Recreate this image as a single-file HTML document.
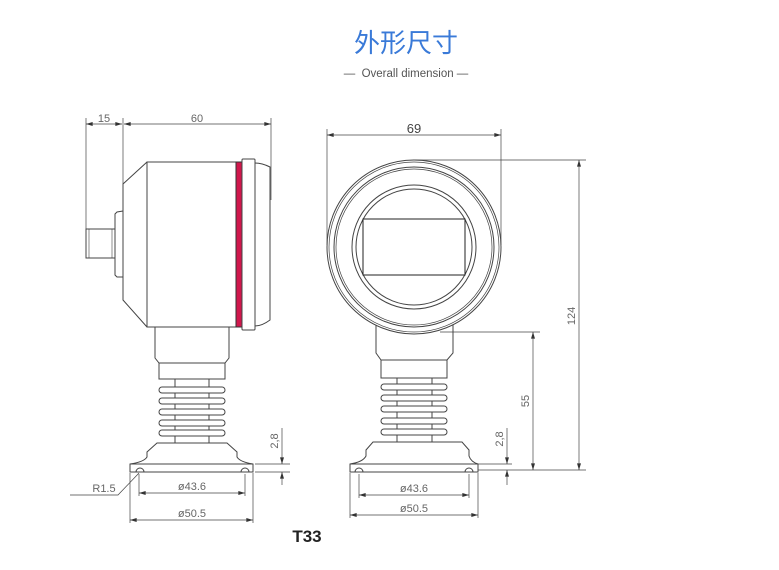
<!DOCTYPE html>
<html><head><meta charset="utf-8"><style>
html,body{margin:0;padding:0;background:#fff}
svg{display:block}
</style></head><body>
<svg width="779" height="570" viewBox="0 0 779 570" xmlns="http://www.w3.org/2000/svg">
<defs>
<marker id="a" viewBox="0 0 10 6" refX="10" refY="3" markerWidth="9" markerHeight="4" orient="auto-start-reverse" markerUnits="userSpaceOnUse"><path d="M0,0 L10,3 L0,6 z" fill="#333"/></marker>
</defs>
<text x="406" y="52" text-anchor="middle" font-family="'Liberation Sans','Noto Sans CJK SC',sans-serif" font-size="26" fill="#3a7ad8">外形尺寸</text>
<text x="406" y="77" text-anchor="middle" font-family="'Liberation Sans',sans-serif" font-size="11.5" fill="#555">—&#160;&#160;Overall dimension —</text>

<g fill="none" stroke="#444" stroke-width="1">
<!-- LEFT VIEW -->
<line x1="86" y1="118" x2="86" y2="258" stroke-width="0.7"/>
<line x1="123" y1="118" x2="123" y2="184" stroke-width="0.7"/>
<line x1="271" y1="118" x2="271" y2="200" stroke-width="0.7"/>
<line x1="86" y1="124" x2="122" y2="124" stroke-width="0.7" marker-start="url(#a)" marker-end="url(#a)"/>
<line x1="124" y1="124" x2="271" y2="124" stroke-width="0.7" marker-start="url(#a)" marker-end="url(#a)"/>
<rect x="86" y="229" width="29" height="29"/>
<line x1="89" y1="229" x2="89" y2="258" stroke-width="0.6"/>
<line x1="112" y1="229" x2="112" y2="258" stroke-width="0.6"/>
<path d="M123,211 L117,212 L115,214 L115,275 L117,277 L123,277"/>
<path d="M147,162 L123,184 L123,300 L147,327"/>
<rect x="147" y="162" width="89" height="165"/>
<rect x="236" y="162" width="6" height="165" fill="#d0174c" stroke="#333"/>
<rect x="242" y="159" width="13" height="171" rx="1"/>
<path d="M255,163 Q262,163 270,167 L270,320 Q262,326 255,326"/>
<path d="M155,327 L155,358 L159,363 L225,363 L229,358 L229,327"/>
<rect x="159" y="363" width="66" height="16"/>
<line x1="175" y1="379" x2="175" y2="443"/>
<line x1="209" y1="379" x2="209" y2="443"/>
<g fill="#fff">
<rect x="159" y="387" width="66" height="6" rx="3"/>
<rect x="159" y="398" width="66" height="6" rx="3"/>
<rect x="159" y="409" width="66" height="6" rx="3"/>
<rect x="159" y="420" width="66" height="6" rx="3"/>
<rect x="159" y="430" width="66" height="6" rx="3"/>
</g>
<path d="M157,443 L227,443 L237,452 L237,457 Q240,462 253,464 L253,472 L130,472 L130,464 Q144,462 147,457 L147,452 Z"/>
<line x1="130" y1="464" x2="253" y2="464"/>
<path d="M136,472 A4,4 0 0 1 144,472"/>
<path d="M241,472 A4,4 0 0 1 249,472"/>
<line x1="255" y1="464" x2="290" y2="464" stroke-width="0.7"/>
<line x1="255" y1="472" x2="290" y2="472" stroke-width="0.7"/>
<line x1="282" y1="428" x2="282" y2="464" stroke-width="0.7" marker-end="url(#a)"/>
<line x1="282" y1="485" x2="282" y2="472" stroke-width="0.7" marker-end="url(#a)"/>
<line x1="139" y1="474" x2="139" y2="496" stroke-width="0.7"/>
<line x1="245" y1="474" x2="245" y2="496" stroke-width="0.7"/>
<line x1="130" y1="473" x2="130" y2="523" stroke-width="0.7"/>
<line x1="253" y1="473" x2="253" y2="523" stroke-width="0.7"/>
<line x1="139" y1="493" x2="245" y2="493" stroke-width="0.7" marker-start="url(#a)" marker-end="url(#a)"/>
<line x1="130" y1="520" x2="253" y2="520" stroke-width="0.7" marker-start="url(#a)" marker-end="url(#a)"/>
<path d="M70,495 L118,495 L139,473" stroke-width="0.7"/>

<!-- RIGHT VIEW -->
<line x1="327" y1="129" x2="327" y2="245" stroke-width="0.7"/>
<line x1="501" y1="129" x2="501" y2="245" stroke-width="0.7"/>
<line x1="327" y1="135" x2="501" y2="135" stroke-width="0.7" marker-start="url(#a)" marker-end="url(#a)"/>
<circle cx="414" cy="247" r="87"/>
<circle cx="414" cy="247" r="85" stroke-width="0.7"/>
<circle cx="414" cy="247" r="80"/>
<circle cx="414" cy="247" r="78" stroke-width="0.7"/>
<circle cx="414" cy="247" r="62"/>
<circle cx="414" cy="247" r="58"/>
<rect x="363" y="219" width="102" height="56" stroke="#222"/>
<line x1="415" y1="160" x2="586" y2="160" stroke-width="0.7"/>
<line x1="579" y1="160" x2="579" y2="470" stroke-width="0.7" marker-start="url(#a)" marker-end="url(#a)"/>
<path d="M376,325 L376,353 L381,360 L447,360 L453,353 L453,325"/>
<rect x="381" y="360" width="66" height="18"/>
<line x1="397" y1="378" x2="397" y2="442"/>
<line x1="432" y1="378" x2="432" y2="442"/>
<g fill="#fff">
<rect x="381" y="384" width="66" height="6" rx="3"/>
<rect x="381" y="395" width="66" height="6" rx="3"/>
<rect x="381" y="406" width="66" height="6" rx="3"/>
<rect x="381" y="418" width="66" height="6" rx="3"/>
<rect x="381" y="429" width="66" height="6" rx="3"/>
</g>
<path d="M373,442 L462,442 L469,450 L469,456 Q471,462 478,464 L478,472 L350,472 L350,464 Q363,462 366,456 L366,450 Z"/>
<line x1="350" y1="464" x2="478" y2="464"/>
<path d="M355,472 A4,4 0 0 1 363,472"/>
<path d="M465,472 A4,4 0 0 1 473,472"/>
<line x1="440" y1="332" x2="540" y2="332" stroke-width="0.7"/>
<line x1="533" y1="332" x2="533" y2="470" stroke-width="0.7" marker-start="url(#a)" marker-end="url(#a)"/>
<line x1="478" y1="470" x2="586" y2="470" stroke-width="0.7"/>
<line x1="478" y1="464" x2="512" y2="464" stroke-width="0.7"/>
<line x1="507" y1="428" x2="507" y2="464" stroke-width="0.7" marker-end="url(#a)"/>
<line x1="507" y1="485" x2="507" y2="470" stroke-width="0.7" marker-end="url(#a)"/>
<line x1="359" y1="474" x2="359" y2="498" stroke-width="0.7"/>
<line x1="469" y1="474" x2="469" y2="498" stroke-width="0.7"/>
<line x1="350" y1="473" x2="350" y2="518" stroke-width="0.7"/>
<line x1="478" y1="473" x2="478" y2="518" stroke-width="0.7"/>
<line x1="359" y1="495" x2="469" y2="495" stroke-width="0.7" marker-start="url(#a)" marker-end="url(#a)"/>
<line x1="350" y1="515" x2="478" y2="515" stroke-width="0.7" marker-start="url(#a)" marker-end="url(#a)"/>
</g>

<g font-family="'Liberation Sans',sans-serif" font-size="11" fill="#666" text-anchor="middle">
<text x="104" y="122">15</text>
<text x="197" y="122">60</text>
<text x="414" y="133" font-size="13" fill="#444">69</text>
<text x="192" y="490">ø43.6</text>
<text x="192" y="517">ø50.5</text>
<text x="104" y="492">R1.5</text>
<text x="414" y="492">ø43.6</text>
<text x="414" y="512">ø50.5</text>
<text transform="translate(278,441) rotate(-90)">2,8</text>
<text transform="translate(503,439) rotate(-90)">2,8</text>
<text transform="translate(529,401) rotate(-90)">55</text>
<text transform="translate(575,316) rotate(-90)">124</text>
</g>
<text x="307" y="542" text-anchor="middle" font-family="'Liberation Sans',sans-serif" font-size="17" font-weight="bold" fill="#222">T33</text>
</svg>
</body></html>
